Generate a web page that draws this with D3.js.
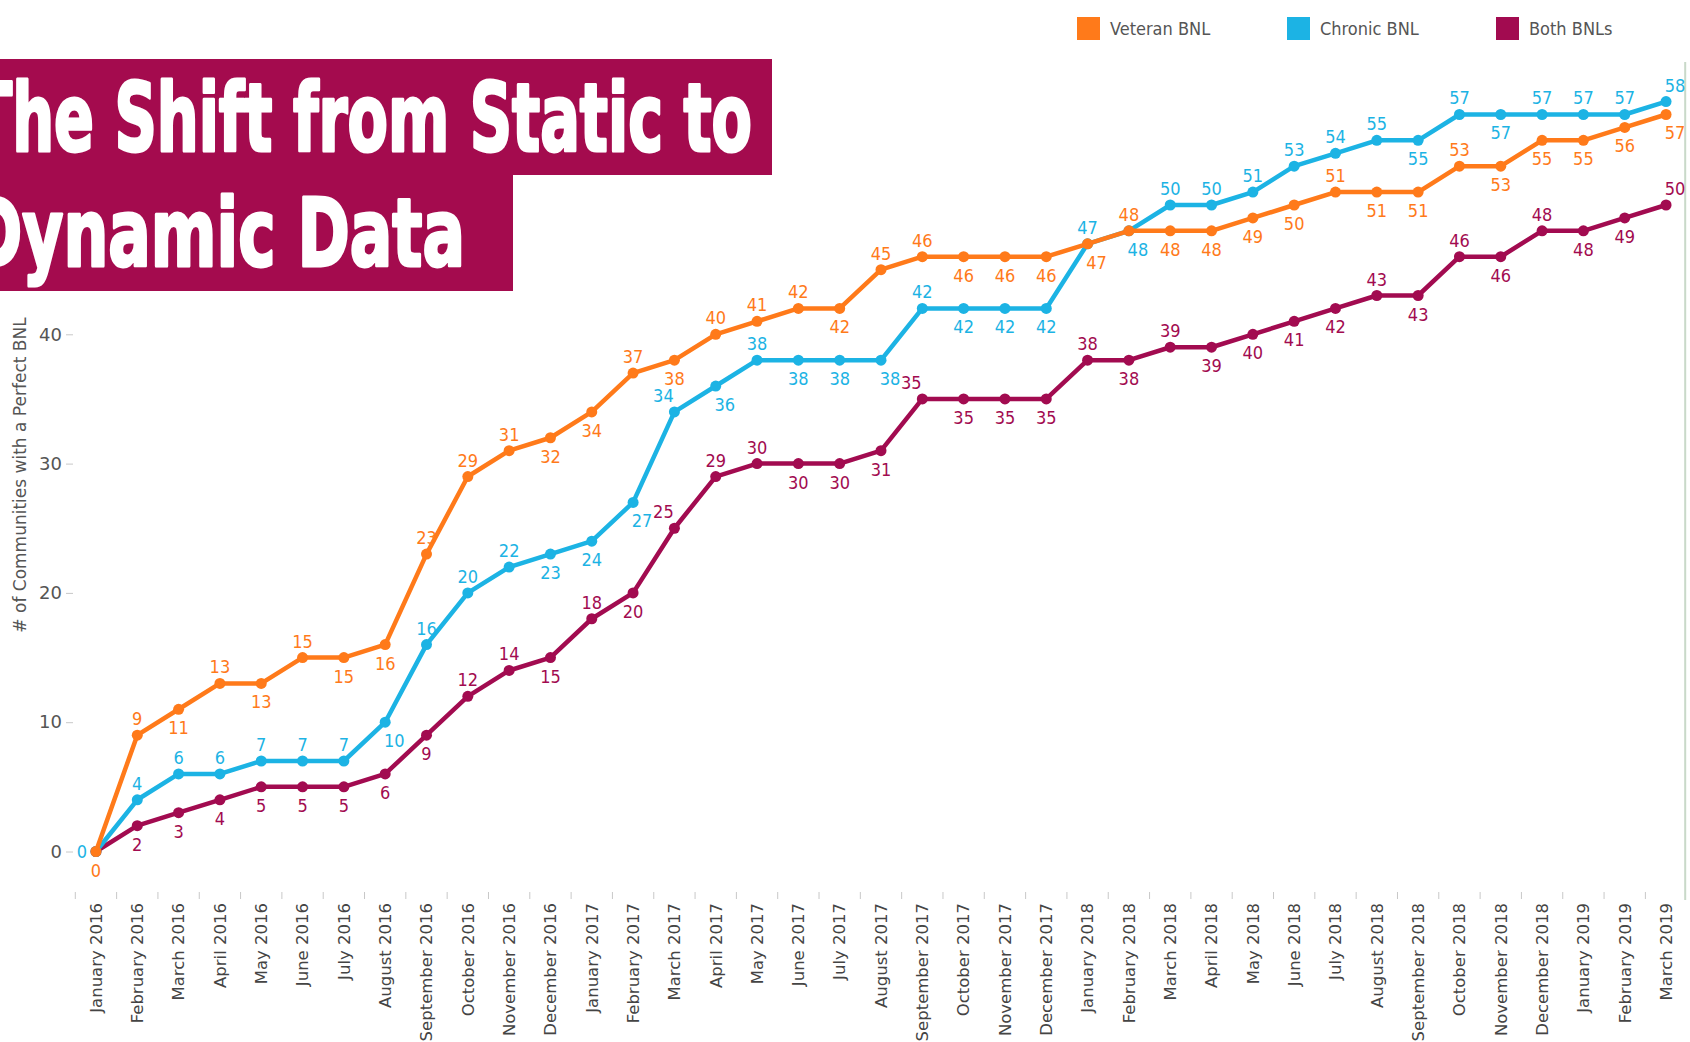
<!DOCTYPE html>
<html lang="en">
<head>
<meta charset="UTF-8">
<title>The Shift from Static to Dynamic Data</title>
<script src="https://cdn.jsdelivr.net/npm/d3@7"></script>
<style>
body { margin: 0; background: #fff; }
svg { display: block; }
.lbl { font-family: "DejaVu Sans Condensed", "DejaVu Sans", sans-serif; font-size: 18px; }
.axis text { font-family: "DejaVu Sans", sans-serif; fill: #555; }
</style>
</head>
<body>
<script>

// months on the x axis
var months = [
  "January 2016", "February 2016", "March 2016", "April 2016", "May 2016", "June 2016",
  "July 2016", "August 2016", "September 2016", "October 2016", "November 2016", "December 2016",
  "January 2017", "February 2017", "March 2017", "April 2017", "May 2017", "June 2017",
  "July 2017", "August 2017", "September 2017", "October 2017", "November 2017", "December 2017",
  "January 2018", "February 2018", "March 2018", "April 2018", "May 2018", "June 2018",
  "July 2018", "August 2018", "September 2018", "October 2018", "November 2018", "December 2018",
  "January 2019", "February 2019", "March 2019"
];

// series values
var veteran = [0, 9, 11, 13, 13, 15, 15, 16, 23, 29, 31, 32,
               34, 37, 38, 40, 41, 42, 42, 45, 46, 46, 46, 46,
               47, 48, 48, 48, 49, 50, 51, 51, 51, 53, 53, 55,
               55, 56, 57];
var chronic = [0, 4, 6, 6, 7, 7, 7, 10, 16, 20, 22, 23,
               24, 27, 34, 36, 38, 38, 38, 38, 42, 42, 42, 42,
               47, 48, 50, 50, 51, 53, 54, 55, 55, 57, 57, 57,
               57, 57, 58];
var both    = [0, 2, 3, 4, 5, 5, 5, 6, 9, 12, 14, 15,
               18, 20, 25, 29, 30, 30, 30, 31, 35, 35, 35, 35,
               38, 38, 39, 39, 40, 41, 42, 43, 43, 46, 46, 48,
               48, 49, 50];

// where each value label sits: a above, b below, r/l nudges, "" none
var veteranSide = ["b","a","b","a","b","a","b","b","a","a","a","b",
                   "b","a","b","a","a","a","b","a","a","b","b","b",
                   "br","a","b","b","b","b","a","b","b","a","b","b",
                   "b","b","br"];
var chronicSide = ["l","a","a","a","a","a","a","br","a","a","a","b",
                   "b","br","al","br","a","b","b","br","a","b","b","b",
                   "a","br","a","a","a","a","a","a","b","a","b","a",
                   "a","a","ar"];
var bothSide    = ["","b","b","b","b","b","b","b","b","a","a","b",
                   "a","b","al","a","a","b","b","b","al","b","b","b",
                   "a","b","a","b","b","b","b","a","b","a","b","a",
                   "b","b","ar"];

// 50 sits under the title block, so it is left out
var yTicks = [0, 10, 20, 30, 40];

var seriesNames = ["Veteran BNL", "Chronic BNL", "Both BNLs"];
var colors = ["#ff7a1a", "#1cb3e4", "#a20b50"];

var series = [
  { name: seriesNames[0], values: veteran, side: veteranSide, color: colors[0] },
  { name: seriesNames[1], values: chronic, side: chronicSide, color: colors[1] },
  { name: seriesNames[2], values: both, side: bothSide, color: colors[2] }
];

var w = 1690, h = 1042;

var svg = d3.select("body").append("svg")
  .attr("width", w)
  .attr("height", h);

// band scale so ticks can sit on the band edges
var xBand = d3.scaleBand()
  .domain(months)
  .range([75.3, 1686.7])
  .paddingInner(0)
  .paddingOuter(0);

function xc(i) { return xBand(months[i]) + xBand.bandwidth() / 2; }

var y = d3.scaleLinear()
  .domain([0, 60])
  .range([851.5, 851.5 - 60 * 12.93]);

// right border line
svg.append("line")
  .attr("x1", xBand.range()[1] - 1.5).attr("x2", xBand.range()[1] - 1.5)
  .attr("y1", 62).attr("y2", 900)
  .attr("stroke", "#c9d9c9")
  .attr("stroke-width", 2);

// y axis
var yAxis = svg.append("g")
  .attr("class", "axis")
  .attr("transform", "translate(73,0)")
  .call(d3.axisLeft(y).tickValues(yTicks).tickSize(7).tickPadding(4));
yAxis.select(".domain").remove();
yAxis.selectAll(".tick line").attr("stroke", "#c8c8c8");
yAxis.selectAll(".tick text").style("font-size", "18px");

svg.append("text")
  .attr("transform", "translate(26,475) rotate(-90)")
  .attr("text-anchor", "middle")
  .style("font-family", "'DejaVu Sans', sans-serif")
  .style("font-size", "17px")
  .style("fill", "#555")
  .text("# of Communities with a Perfect BNL");

// x axis labels
var xAxis = svg.append("g")
  .attr("class", "axis")
  .attr("transform", "translate(0,893)")
  .call(d3.axisBottom(xBand).tickSize(0).tickPadding(0));
xAxis.select(".domain").remove();
xAxis.selectAll(".tick text")
  .style("font-size", "16.5px")
  .style("fill", "#444")
  .attr("text-anchor", "end")
  .attr("transform", "rotate(-90)")
  .attr("x", -10)
  .attr("y", 0)
  .attr("dy", "0.35em");

// x ticks on the band edges
svg.append("g").selectAll("line")
  .data(months)
  .enter().append("line")
  .attr("x1", function(d) { return xBand(d); })
  .attr("x2", function(d) { return xBand(d); })
  .attr("y1", 892).attr("y2", 899)
  .attr("stroke", "#c8c8c8")
  .attr("stroke-width", 1);

var line = d3.line()
  .x(function(d, i) { return xc(i); })
  .y(function(d) { return y(d); });

// lines, drawn back to front so veteran ends on top at the origin
var drawOrder = [2, 1, 0];
drawOrder.forEach(function(k) {
  var s = series[k];
  var g = svg.append("g");

  g.append("path")
    .datum(s.values)
    .attr("d", line)
    .attr("fill", "none")
    .attr("stroke", s.color)
    .attr("stroke-width", 4.5)
    .attr("stroke-linejoin", "round");

  g.selectAll("circle")
    .data(s.values)
    .enter().append("circle")
    .attr("cx", function(d, i) { return xc(i); })
    .attr("cy", function(d) { return y(d); })
    .attr("r", 5.5)
    .attr("fill", s.color);
});

// value labels
series.forEach(function(s) {
  var pts = s.values
    .map(function(v, i) { return { v: v, i: i, side: s.side[i] }; })
    .filter(function(p) { return p.side !== ""; });

  svg.append("g").selectAll("text")
    .data(pts)
    .enter().append("text")
    .attr("class", "lbl")
    .attr("fill", s.color)
    .attr("text-anchor", function(p) { return p.side === "l" ? "end" : "middle"; })
    .attr("x", function(p) {
      var x = xc(p.i);
      if (p.side === "l") return x - 9;
      if (p.side === "ar" || p.side === "br") return x + 9;
      if (p.side === "al") return x - 11;
      return x;
    })
    .attr("y", function(p) {
      var yy = y(p.v);
      if (p.side === "l") return yy + 6.5;
      if (p.side.charAt(0) === "a") return yy - 10;
      return yy + 25;
    })
    .text(function(p) { return p.v; });
});

// title boxes
svg.append("rect").attr("x", 0).attr("y", 59).attr("width", 772).attr("height", 116).attr("fill", "#a40b4e");
svg.append("rect").attr("x", 0).attr("y", 175).attr("width", 513).attr("height", 116).attr("fill", "#a40b4e");

var titleLines = ["The Shift from Static to", "Dynamic Data"];
var titleFont = "'Liberation Sans Narrow', 'DejaVu Sans Condensed', sans-serif";

svg.append("text")
  .attr("x", -28).attr("y", 151)
  .attr("textLength", 780)
  .attr("lengthAdjust", "spacingAndGlyphs")
  .style("font-family", titleFont)
  .style("font-weight", "bold")
  .style("font-size", "95px")
  .attr("fill", "#fff")
  .attr("stroke", "#fff")
  .attr("stroke-width", 3)
  .attr("stroke-linejoin", "round")
  .text(titleLines[0]);

svg.append("text")
  .attr("x", -30).attr("y", 266)
  .attr("textLength", 495)
  .attr("lengthAdjust", "spacingAndGlyphs")
  .style("font-family", titleFont)
  .style("font-weight", "bold")
  .style("font-size", "95px")
  .attr("fill", "#fff")
  .attr("stroke", "#fff")
  .attr("stroke-width", 3)
  .attr("stroke-linejoin", "round")
  .text(titleLines[1]);

// legend
var legendX = [1077, 1287, 1496];
var legend = svg.append("g").selectAll("g")
  .data(series)
  .enter().append("g")
  .attr("transform", function(d, i) { return "translate(" + legendX[i] + ",17)"; });

legend.append("rect")
  .attr("width", 23).attr("height", 23)
  .attr("fill", function(d) { return d.color; });

legend.append("text")
  .attr("x", 33).attr("y", 12)
  .attr("dy", "0.35em")
  .style("font-family", "'DejaVu Sans Condensed', 'DejaVu Sans', sans-serif")
  .style("font-size", "18px")
  .attr("fill", "#555")
  .text(function(d) { return d.name; });

</script>
</body>
</html>
